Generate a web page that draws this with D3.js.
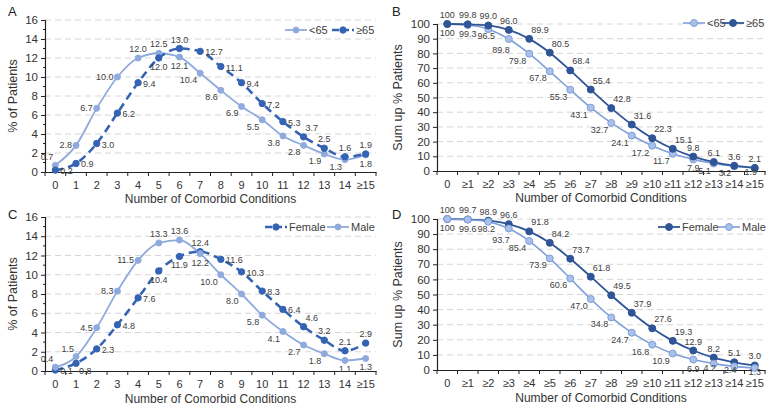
<!DOCTYPE html>
<html><head><meta charset="utf-8">
<script src="https://cdn.jsdelivr.net/npm/d3@7/dist/d3.min.js"></script>
<style>body{margin:0;background:#fff}svg{display:block}text{font-family:"Liberation Sans",Arial,sans-serif}</style>
</head><body><svg id="c" width="774" height="412"></svg>
<script>
// ---- data ----
const categories = ["0","1","2","3","4","5","6","7","8","9","10","11","12","13","14","≥15"];
const categoriesSum = ["0","≥1","≥2","≥3","≥4","≥5","≥6","≥7","≥8","≥9","≥10","≥11","≥12","≥13","≥14","≥15"];
const aUnder65 = [0.7,2.8,6.7,10.0,12.0,12.5,12.1,10.4,8.6,6.9,5.5,3.8,2.8,1.9,1.3,1.8];
const aOver65  = [0.2,0.9,3.0,6.2,9.4,12.0,13.0,12.7,11.1,9.4,7.2,5.3,3.7,2.5,1.6,1.9];
const bUnder65 = [100,99.3,96.5,89.8,79.8,67.8,55.3,43.1,32.7,24.1,17.2,11.7,7.9,5.1,3.2,1.9];
const bOver65  = [100,99.8,99.0,96.0,89.9,80.5,68.4,55.4,42.8,31.6,22.3,15.1,9.8,6.1,3.6,2.1];
const cFemale  = [0.1,0.8,2.3,4.8,7.6,10.4,11.9,12.4,11.6,10.3,8.3,6.4,4.6,3.2,2.1,2.9];
const cMale    = [0.4,1.5,4.5,8.3,11.5,13.3,13.6,12.2,10.0,8.0,5.8,4.1,2.7,1.8,1.1,1.3];
const dFemale  = [100,99.7,98.9,96.6,91.8,84.2,73.7,61.8,49.5,37.9,27.6,19.3,12.9,8.2,5.1,3.0];
const dMale    = [100,99.6,98.2,93.7,85.4,73.9,60.6,47.0,34.8,24.7,16.8,10.9,6.9,4.2,2.4,1.3];
const yTicksPct = [0,2,4,6,8,10,12,14,16];
const yTicksSum = [0,10,20,30,40,50,60,70,80,90,100];
const seriesNamesAge = ["<65","≥65"];
const seriesNamesSex = ["Female","Male"];

// ---- style ----
const LIGHT = "#8FAADC", DARK = "#3563B4", DARK2 = "#2F5597";
const fmt = v => (v===100 ? "100" : v.toFixed(1));
const svg = d3.select("#c");

// label placement codes (layout only)
const P = {
  t:[0,-6,"middle"], b:[0,12,"middle"], l:[-4,3,"end"], r:[5,4,"start"],
  lb:[-3,10,"end"], rb:[3,11,"start"], lt:[-2,-5,"end"], rt:[2,-6,"start"],
  bb:[-4,7,"middle"], bs:[0,7,"middle"], b2:[-2,10,"middle"], lbb:[1,14,"end"]
};
const placeA1 = ["lt","l","l","l","t","t","b","lb","lb","lb","lb","lb","lb","lb","lb","b"];
const placeA2 = ["r","r","r","r","r","b","t","r","r","r","r","r","rt","t","t","t"];
const placeB1 = ["b","b","b2","lbb","lb","lb","lb","lb","lb","lb","lb","lb","b","lb","lb","bb"];
const placeB2 = ["t","t","t","t","rt","rt","rt","rt","rt","rt","rt","rt","t","t","t","t"];
const placeC1 = ["r","rb","r","r","r","b","b","t","r","r","r","r","rt","t","t","t"];
const placeC2 = ["lt","lt","l","l","l","t","t","b","lb","lb","lb","lb","lb","lb","b","b"];
const placeD1 = ["t","t","t","t","rt","rt","rt","rt","rt","rt","rt","rt","t","t","t","t"];
const placeD2 = ["b","b","b2","lbb","lb","lb","lb","lb","lb","lb","lb","lb","b","bb","bb","bs"];

const panels = [
  {letter:"A", lx:8, ly:16, x0:45, x1:376, yTop:20, yBot:172, yMax:16, ticks:yTicksPct, minor:true,
   cats:categories, ytitle:"% of Patients", ytx:13, xtY:203,
   series:[
     {name:seriesNamesAge[0], v:aUnder65, color:LIGHT, dash:null, w:1.8, r:3, place:placeA1, mfill:LIGHT},
     {name:seriesNamesAge[1], v:aOver65, color:DARK, dash:"8,5", w:2.6, r:3.2, place:placeA2, mfill:DARK}],
   legend:[{s:0,x:285},{s:1,x:332}], legY:30},
  {letter:"B", lx:392, ly:16, x0:437, x1:765, yTop:24, yBot:171, yMax:100, ticks:yTicksSum, minor:false,
   cats:categoriesSum, ytitle:"Sum up % Patients", ytx:398, xtY:202,
   series:[
     {name:seriesNamesAge[0], v:bUnder65, color:"#7F9FD8", dash:null, w:1.6, r:3.5, place:placeB1, mfill:"#A9C1EA"},
     {name:seriesNamesAge[1], v:bOver65, color:DARK2, dash:null, w:1.8, r:3.5, place:placeB2, mfill:DARK2}],
   legend:[{s:0,x:683},{s:1,x:722}], legY:23},
  {letter:"C", lx:8, ly:219, x0:45, x1:376, yTop:217, yBot:371, yMax:16, ticks:yTicksPct, minor:true,
   cats:categories, ytitle:"% of Patients", ytx:13, xtY:403,
   series:[
     {name:seriesNamesSex[0], v:cFemale, color:DARK, dash:"8,5", w:2.6, r:3.2, place:placeC1, mfill:DARK},
     {name:seriesNamesSex[1], v:cMale, color:LIGHT, dash:null, w:1.8, r:3, place:placeC2, mfill:LIGHT}],
   legend:[{s:0,x:265},{s:1,x:327}], legY:227},
  {letter:"D", lx:392, ly:219, x0:437, x1:765, yTop:219, yBot:370, yMax:100, ticks:yTicksSum, minor:false,
   cats:categoriesSum, ytitle:"Sum up % Patients", ytx:398, xtY:402,
   series:[
     {name:seriesNamesSex[0], v:dFemale, color:DARK2, dash:null, w:1.8, r:3.5, place:placeD1, mfill:DARK2},
     {name:seriesNamesSex[1], v:dMale, color:"#7F9FD8", dash:null, w:1.6, r:3.5, place:placeD2, mfill:"#A9C1EA"}],
   legend:[{s:0,x:658},{s:1,x:718}], legY:227}
];

panels.forEach(p => {
  const g = svg.append("g");
  const x = d3.scaleBand().domain(p.cats).range([p.x0, p.x1]);
  const xc = c => x(c) + x.bandwidth()/2;
  const y = d3.scaleLinear().domain([0, p.yMax]).range([p.yBot, p.yTop]);

  g.append("text").attr("x", p.lx).attr("y", p.ly).attr("font-size", 13).attr("fill", "#222").text(p.letter);

  // grid
  g.selectAll(".grid").data(p.ticks.filter(t => t > 0)).join("line")
    .attr("x1", p.x0).attr("x2", p.x1).attr("y1", d => y(d)).attr("y2", d => y(d))
    .attr("stroke", "#d6d6d6").attr("stroke-width", 1).attr("stroke-dasharray", "6,4");

  // y axis
  const ya = g.append("g").attr("transform", `translate(${p.x0},0)`)
    .call(d3.axisLeft(y).tickValues(p.ticks).tickSize(4).tickPadding(3).tickFormat(d3.format("d")));
  ya.select(".domain").attr("stroke", "#222").attr("stroke-width", 1.2);
  ya.selectAll(".tick line").attr("stroke", "#222");
  ya.selectAll("text").attr("font-size", 11.5).attr("fill", "#333").attr("font-family", "Liberation Sans, Arial, sans-serif");
  if (p.minor) {
    const step = p.ticks[1] - p.ticks[0];
    const minors = p.ticks.slice(0, -1).map(t => t + step/2);
    g.selectAll(".minor").data(minors).join("line")
      .attr("x1", p.x0 - 2).attr("x2", p.x0).attr("y1", d => y(d)).attr("y2", d => y(d))
      .attr("stroke", "#222");
  }

  // x axis
  const xa = g.append("g").attr("transform", `translate(0,${p.yBot})`)
    .call(d3.axisBottom(x).tickSize(0).tickPadding(9));
  xa.select(".domain").attr("stroke", "#222").attr("stroke-width", 1.2);
  xa.selectAll("text").attr("font-size", 11).attr("fill", "#333").attr("font-family", "Liberation Sans, Arial, sans-serif");
  const bounds = p.cats.map(c => x(c)).concat([p.x1]);
  g.selectAll(".xt").data(bounds).join("line")
    .attr("x1", d => d).attr("x2", d => d).attr("y1", p.yBot).attr("y2", p.yBot + 4)
    .attr("stroke", "#222");

  // axis titles
  g.append("text").attr("x", (p.x0 + p.x1)/2).attr("y", p.xtY).attr("text-anchor", "middle")
    .attr("font-size", 12).attr("fill", "#333").text("Number of Comorbid Conditions");
  g.append("text").attr("transform", `translate(${p.ytx + 4},${(p.yTop + p.yBot)/2}) rotate(-90)`)
    .attr("text-anchor", "middle").attr("font-size", 12.5).attr("fill", "#333").text(p.ytitle);

  // series lines
  const line = d3.line().x((d, i) => xc(p.cats[i])).y(d => y(d)).curve(d3.curveMonotoneX);
  p.series.forEach(s => {
    g.append("path").datum(s.v).attr("d", line).attr("fill", "none")
      .attr("stroke", s.color).attr("stroke-width", s.w)
      .attr("stroke-dasharray", s.dash);
  });
  p.series.forEach(s => {
    g.selectAll(null).data(s.v).join("circle")
      .attr("cx", (d, i) => xc(p.cats[i])).attr("cy", d => y(d)).attr("r", s.r)
      .attr("fill", s.mfill).attr("stroke", s.color).attr("stroke-width", 1);
  });
  // data labels
  p.series.forEach(s => {
    g.selectAll(null).data(s.v).join("text")
      .attr("x", (d, i) => xc(p.cats[i]) + P[s.place[i]][0])
      .attr("y", (d, i) => y(d) + P[s.place[i]][1])
      .attr("text-anchor", (d, i) => P[s.place[i]][2])
      .attr("font-size", 9).attr("fill", "#404040")
      .text(d => fmt(d));
  });

  // legend
  p.legend.forEach(L => {
    const s = p.series[L.s];
    g.append("line").attr("x1", L.x).attr("x2", L.x + 22).attr("y1", p.legY).attr("y2", p.legY)
      .attr("stroke", s.color).attr("stroke-width", s.w).attr("stroke-dasharray", s.dash ? "7,3" : null);
    g.append("circle").attr("cx", L.x + 11).attr("cy", p.legY).attr("r", s.r)
      .attr("fill", s.mfill).attr("stroke", s.color);
    g.append("text").attr("x", L.x + 24).attr("y", p.legY + 4).attr("font-size", 11).attr("fill", "#404040").text(s.name);
  });
});
</script></body></html>
